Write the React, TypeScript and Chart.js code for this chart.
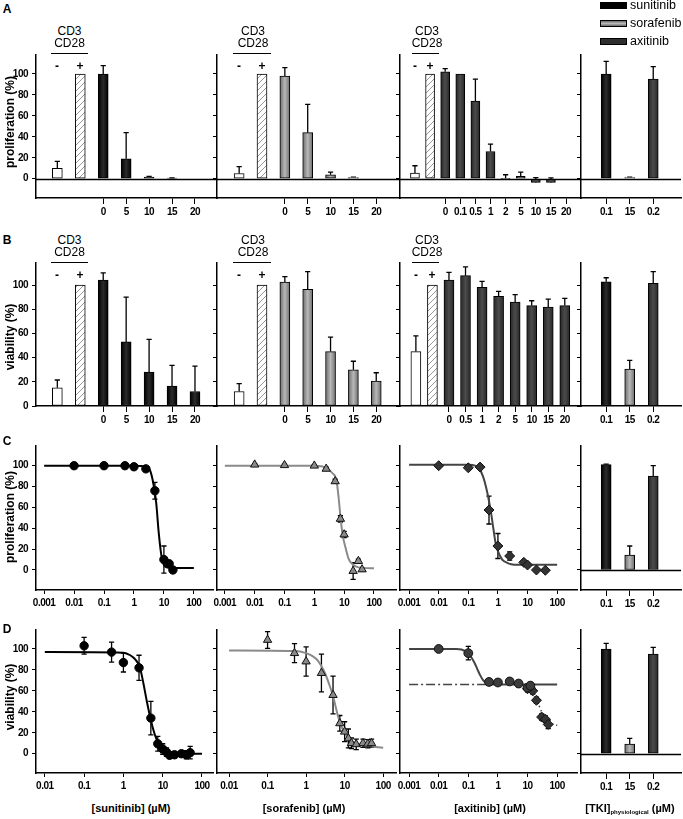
import React, { useEffect, useRef } from 'react';
import { Chart, registerables } from 'chart.js';
Chart.register(...registerables);

// ================= DATA =================
const CONC_A = ['0', '5', '10', '15', '20'];
const CONC_AXI_A = ['0', '0.1', '0.5', '1', '2', '5', '10', '15', '20'];
const CONC_AXI_B = ['0', '0.5', '1', '2', '5', '10', '15', '20'];
const PHYS_LABELS = ['0.1', '15', '0.2'];
const PHYS_DRUGS = ['sun', 'sor', 'axi'];
const Y_TICKS = [0, 20, 40, 60, 80, 100];
const LOG_TICKS_3 = [0.001, 0.01, 0.1, 1, 10, 100];
const LOG_LABELS_3 = ['0.001', '0.01', '0.1', '1', '10', '100'];
const LOG_TICKS_2 = [0.01, 0.1, 1, 10, 100];
const LOG_LABELS_2 = ['0.01', '0.1', '1', '10', '100'];

// A: proliferation (%) — controls (-, +) then drug doses
const aSunCtrl = [10, 100];
const aSunCtrlErr = [6.5, 0];
const aSunVal = [100, 19, 1.5, 0.5, 0];
const aSunErr = [8, 25, 0.6, 0.3, 0];
const aSorCtrl = [5, 100];
const aSorCtrlErr = [6.5, 0];
const aSorVal = [98, 44, 3.8, 1, 0];
const aSorErr = [8, 27, 2.5, 0.5, 0];
const aAxiCtrl = [5.4, 100];
const aAxiCtrlErr = [7, 0];
const aAxiVal = [102, 100, 74, 26, 0.3, 2.3, -3.6, -3.6, 0];
const aAxiErr = [3, 0, 21, 7, 3.5, 4, 4.6, 4.4, 0];
const aPhysVal = [100, 1, 95];
const aPhysErr = [12, 0.5, 12];

// B: viability (%)
const bSunCtrl = [15, 100];
const bSunCtrlErr = [6.5, 0];
const bSunVal = [104, 53, 28, 16.5, 12];
const bSunErr = [6, 37, 27, 17, 21];
const bSorCtrl = [12, 100];
const bSorCtrlErr = [6.5, 0];
const bSorVal = [102.5, 96.5, 45, 30, 20.5];
const bSorErr = [4.5, 14.5, 12, 7, 7];
const bAxiCtrl = [45, 100];
const bAxiCtrlErr = [13, 0];
const bAxiVal = [104, 107.7, 98, 90.6, 86, 83, 81.8, 83];
const bAxiErr = [6.5, 7.3, 5, 4.2, 6, 4, 6.6, 6];
const bPhysVal = [102.7, 30.5, 101.4];
const bPhysErr = [3.3, 7.2, 9.6];

// C: proliferation dose–response (µM)
const cSunX = [0.01, 0.1, 0.5, 1, 2.5, 5, 10, 15, 20];
const cSunY = [100, 100, 100, 99, 97, 76, 10, 6, 0];
const cSunErr = [1, 1, 1, 1, 2, 8, 13, 2, 1];
const cSunFitX = [0.001, 1, 2.5, 3.5, 4.5, 5.5, 6.7, 7.7, 8.7, 10, 12, 20, 100];
const cSunFitY = [100, 100, 99, 95, 82, 65, 36, 20, 10, 5, 2.5, 2, 2];
const cSorX = [0.01, 0.1, 1, 2.5, 5, 7.5, 10, 20, 30, 40];
const cSorY = [101, 100.5, 100, 97, 85, 49, 34, -1, 8.5, 0.5];
const cSorErr = [1, 1, 1, 1.5, 2, 3, 3, 8, 2, 1.5];
const cSorFitX = [0.001, 1, 2.5, 4, 5.5, 6.5, 7.7, 9, 11.7, 14, 18.5, 30, 100];
const cSorFitY = [100, 100, 98, 93, 86, 70, 48, 33, 19, 11, 6, 2.5, 1.6];
const cAxiX = [0.01, 0.1, 0.25, 0.5, 1, 2.5, 7.5, 10, 20, 40];
const cAxiY = [100, 98, 98.7, 57.5, 23, 13.4, 7.3, 4.8, 0, -0.3];
const cAxiErr = [1, 1, 1, 13.4, 12, 4, 2, 2, 1, 1];
const cAxiFitX = [0.001, 0.1, 0.17, 0.25, 0.32, 0.4, 0.5, 0.6, 0.7, 0.82, 1, 1.4, 2, 2.8, 5, 100];
const cAxiFitY = [101, 101, 100, 96, 89, 79, 66, 53, 40, 27, 18, 10, 7, 5.5, 5, 5];
const cPhysVal = [101, 14.4, 90];
const cPhysErr = [0.6, 8.6, 10];

// D: viability dose–response (µM)
const dSunX = [0.1, 0.5, 1, 2.5, 5, 7.5, 10, 12.5, 15, 20, 30, 40, 50];
const dSunY = [103, 97, 87, 82, 34, 9.5, 4.5, 1.5, -1.5, -1, 0, -1, 1];
const dSunErr = [8, 9.5, 9, 12, 16, 7, 5, 4, 3, 3, 3, 4, 6];
const dSunFitX = [0.01, 1, 1.5, 2, 2.6, 3.2, 3.9, 5, 6.2, 7.5, 9.1, 12, 20, 100];
const dSunFitY = [97, 96.5, 94, 90, 83, 68, 51, 32, 19, 11, 5, 2, 0.5, 0];
const dSorX = [0.1, 0.5, 1, 2.5, 5, 7.5, 10, 12.5, 15, 20, 30, 40, 50];
const dSorY = [108.6, 96, 88, 77, 56, 29, 21, 14.6, 10, 9, 10, 9.5, 10];
const dSorErr = [8, 9, 14, 18, 18, 7.5, 9.5, 9, 5, 5, 4, 4, 4];
const dSorFitX = [0.01, 0.5, 1, 1.5, 2, 3, 4, 5, 6.5, 8, 10, 14, 20, 40, 100];
const dSorFitY = [98.5, 98, 96, 93, 89, 78, 66, 55, 38, 27, 20, 13, 10, 7.5, 5.7];
const dAxiCircX = [0.01, 0.1, 0.5, 1, 2.5, 5, 10, 12.5];
const dAxiCircY = [100, 96, 68.5, 68, 69, 67, 63, 65];
const dAxiCircErr = [1.5, 6.5, 2, 2, 2, 3, 3, 3];
const dAxiDiamX = [10, 15, 20, 30, 40, 50];
const dAxiDiamY = [62, 60, 51, 35, 33, 28];
const dAxiDiamErr = [3, 3, 3, 3, 3, 4];
const dAxiFitX = [0.001, 0.04, 0.08, 0.12, 0.16, 0.2, 0.25, 0.32, 0.4, 0.5, 1, 100];
const dAxiFitY = [100, 100, 98, 93, 87, 81, 75, 70, 67.5, 66, 66, 66];
const dAxiDashX = [0.001, 0.5];
const dAxiDashY = [66, 66];
const dAxiDotX = [10, 20, 30, 50, 100];
const dAxiDotY = [64, 52, 40, 31, 27];
const dPhysVal = [100, 9.2, 95];
const dPhysErr = [5.4, 5.4, 6.6];

// ================= LAYOUT / STYLE =================
const COLS = [[36, 217], [217, 400], [400, 581], [581, 681]];
const ROWS = [[55, 198], [263, 406], [446, 590], [630, 773]];
const Y_RANGES = [[-18.4, 118.1], [0, 118.2], [-19.2, 118.9], [-18.4, 118.1]];
const YAXW = 32, PADT = 6, PADR = 2, XAXH = 28;
const X_C1 = [-0.93, 6.96];
const X_C2 = [-0.97, 7.04];
const X_C3A = [-0.99, 10.99];
const X_C3B = [-0.96, 9.98];
const X_C4 = [-1.07, 3.18];
const LOG_C1 = [5.35e-4, 464];
const LOG_C2 = [5.46e-4, 556];
const LOG_C3 = [4.93e-4, 469];
const LOG_D1 = [5.96e-3, 200];
const LOG_D2 = [4.87e-3, 218];

const FONT_NARROW = "'Liberation Sans Narrow','Arial Narrow','Liberation Sans',Arial,sans-serif";
const FONT_SANS = "'Liberation Sans',Arial,Helvetica,sans-serif";

const DRUG_FILL = {
  sun: ['#000000', '#2c2c2c'],
  sor: ['#6c6c6c', '#b8b8b8'],
  axi: ['#262626', '#4c4c4c'],
};
const POINT_STYLE = {
  sun: { pointStyle: 'circle', bg: '#000', border: '#000', r: 4.2 },
  sor: { pointStyle: 'triangle', bg: '#8a8a8a', border: '#111', r: 4.8 },
  axi: { pointStyle: 'rectRot', bg: '#333', border: '#111', r: 5 },
  axiC: { pointStyle: 'circle', bg: '#3c3c3c', border: '#111', r: 4.4 },
};
const LINE_STYLE = {
  sun: { color: '#000', width: 2 },
  sor: { color: '#8a8a8a', width: 2 },
  axi: { color: '#444', width: 2 },
};

let hatchCache = null;
function hatch() {
  if (hatchCache) return hatchCache;
  const c = document.createElement('canvas');
  c.width = 6; c.height = 6;
  const g = c.getContext('2d');
  g.fillStyle = '#fff';
  g.fillRect(0, 0, 6, 6);
  g.strokeStyle = '#8c8c8c';
  g.lineWidth = 0.9;
  g.beginPath();
  g.moveTo(0, 6); g.lineTo(6, 0);
  g.moveTo(-1, 1); g.lineTo(1, -1);
  g.moveTo(5, 7); g.lineTo(7, 5);
  g.stroke();
  hatchCache = g.createPattern(c, 'repeat');
  return hatchCache;
}

function fillFor(kind, c, barW) {
  if (kind === 'neg') return '#fff';
  if (kind === 'pos') return hatch();
  const [edge, mid] = DRUG_FILL[kind];
  const xs = c.chart.scales && c.chart.scales.x;
  if (!xs || !c.raw || typeof xs.getPixelForValue !== 'function') return edge;
  const cx = xs.getPixelForValue(c.raw.x);
  if (!isFinite(cx)) return edge;
  const g = c.chart.ctx.createLinearGradient(cx - barW / 2, 0, cx + barW / 2, 0);
  g.addColorStop(0, edge);
  g.addColorStop(0.5, mid);
  g.addColorStop(1, edge);
  return g;
}

function barPanel(row, col, o) {
  const pts = [], errs = [], kinds = [], ticks = [];
  const off = o.ctrl ? 2 : 0;
  if (o.ctrl) {
    o.ctrl.forEach((v, i) => { pts.push({ x: i, y: v }); errs.push(o.ctrlErr[i]); kinds.push(i === 0 ? 'neg' : 'pos'); });
  }
  o.vals.forEach((v, i) => {
    pts.push({ x: off + i, y: v });
    errs.push(o.errs[i]);
    kinds.push(o.drugs ? o.drugs[i] : o.drug);
    ticks.push(off + i);
  });
  return { row, col, type: 'bar', pts, errs, kinds, ticks, tickLabels: o.labels, xr: o.xr, barW: o.barW, zero: o.zero };
}

function curvePanel(row, col, o) {
  return { row, col, type: 'curve', ...o };
}

const PANELS = [
  barPanel(0, 0, { ctrl: aSunCtrl, ctrlErr: aSunCtrlErr, labels: CONC_A, vals: aSunVal, errs: aSunErr, drug: 'sun', xr: X_C1, barW: 10, zero: true }),
  barPanel(0, 1, { ctrl: aSorCtrl, ctrlErr: aSorCtrlErr, labels: CONC_A, vals: aSorVal, errs: aSorErr, drug: 'sor', xr: X_C2, barW: 10, zero: true }),
  barPanel(0, 2, { ctrl: aAxiCtrl, ctrlErr: aAxiCtrlErr, labels: CONC_AXI_A, vals: aAxiVal, errs: aAxiErr, drug: 'axi', xr: X_C3A, barW: 9, zero: true }),
  barPanel(0, 3, { labels: PHYS_LABELS, vals: aPhysVal, errs: aPhysErr, drugs: PHYS_DRUGS, xr: X_C4, barW: 10, zero: true }),
  barPanel(1, 0, { ctrl: bSunCtrl, ctrlErr: bSunCtrlErr, labels: CONC_A, vals: bSunVal, errs: bSunErr, drug: 'sun', xr: X_C1, barW: 10, zero: false }),
  barPanel(1, 1, { ctrl: bSorCtrl, ctrlErr: bSorCtrlErr, labels: CONC_A, vals: bSorVal, errs: bSorErr, drug: 'sor', xr: X_C2, barW: 10, zero: false }),
  barPanel(1, 2, { ctrl: bAxiCtrl, ctrlErr: bAxiCtrlErr, labels: CONC_AXI_B, vals: bAxiVal, errs: bAxiErr, drug: 'axi', xr: X_C3B, barW: 10, zero: false }),
  barPanel(1, 3, { labels: PHYS_LABELS, vals: bPhysVal, errs: bPhysErr, drugs: PHYS_DRUGS, xr: X_C4, barW: 10, zero: false }),
  curvePanel(2, 0, { series: [{ x: cSunX, y: cSunY, err: cSunErr, style: 'sun' }], fits: [{ x: cSunFitX, y: cSunFitY, style: 'sun' }], xr: LOG_C1, ticks: LOG_TICKS_3, tickLabels: LOG_LABELS_3 }),
  curvePanel(2, 1, { series: [{ x: cSorX, y: cSorY, err: cSorErr, style: 'sor' }], fits: [{ x: cSorFitX, y: cSorFitY, style: 'sor' }], xr: LOG_C2, ticks: LOG_TICKS_3, tickLabels: LOG_LABELS_3 }),
  curvePanel(2, 2, { series: [{ x: cAxiX, y: cAxiY, err: cAxiErr, style: 'axi' }], fits: [{ x: cAxiFitX, y: cAxiFitY, style: 'axi' }], xr: LOG_C3, ticks: LOG_TICKS_3, tickLabels: LOG_LABELS_3 }),
  barPanel(2, 3, { labels: PHYS_LABELS, vals: cPhysVal, errs: cPhysErr, drugs: PHYS_DRUGS, xr: X_C4, barW: 10, zero: true }),
  curvePanel(3, 0, { series: [{ x: dSunX, y: dSunY, err: dSunErr, style: 'sun' }], fits: [{ x: dSunFitX, y: dSunFitY, style: 'sun' }], xr: LOG_D1, ticks: LOG_TICKS_2, tickLabels: LOG_LABELS_2 }),
  curvePanel(3, 1, { series: [{ x: dSorX, y: dSorY, err: dSorErr, style: 'sor' }], fits: [{ x: dSorFitX, y: dSorFitY, style: 'sor' }], xr: LOG_D2, ticks: LOG_TICKS_2, tickLabels: LOG_LABELS_2 }),
  curvePanel(3, 2, {
    series: [
      { x: dAxiCircX, y: dAxiCircY, err: dAxiCircErr, style: 'axiC' },
      { x: dAxiDiamX, y: dAxiDiamY, err: dAxiDiamErr, style: 'axi' },
    ],
    fits: [
      { x: dAxiFitX, y: dAxiFitY, style: 'axi' },
      { x: dAxiDashX, y: dAxiDashY, style: 'axi', dash: [9, 3, 2, 3], width: 1.5 },
      { x: dAxiDotX, y: dAxiDotY, style: 'axi', dash: [1.5, 3], width: 1.5 },
    ],
    xr: LOG_C3, ticks: LOG_TICKS_3, tickLabels: LOG_LABELS_3,
  }),
  barPanel(3, 3, { labels: PHYS_LABELS, vals: dPhysVal, errs: dPhysErr, drugs: PHYS_DRUGS, xr: X_C4, barW: 10, zero: true }),
];

// ================= PLUGINS =================
const errPlugin = {
  id: 'errBars',
  beforeDatasetsDraw(chart) {
    const ctx = chart.ctx;
    const ys = chart.scales.y;
    chart.data.datasets.forEach((ds, di) => {
      const errs = ds.errors;
      if (!errs) return;
      const meta = chart.getDatasetMeta(di);
      ctx.save();
      ctx.strokeStyle = '#000';
      ctx.lineWidth = 1.3;
      meta.data.forEach((el, i) => {
        const e = errs[i];
        if (!e) return;
        const v = ds.data[i].y;
        const x = el.x;
        const cap = 2.6;
        const yTop = ys.getPixelForValue(v + e);
        const yBot = ds.errorMode === 'up' ? ys.getPixelForValue(v) : ys.getPixelForValue(v - e);
        ctx.beginPath();
        ctx.moveTo(x, yTop); ctx.lineTo(x, yBot);
        ctx.moveTo(x - cap, yTop); ctx.lineTo(x + cap, yTop);
        if (ds.errorMode !== 'up') { ctx.moveTo(x - cap, yBot); ctx.lineTo(x + cap, yBot); }
        ctx.stroke();
      });
      ctx.restore();
    });
  },
};

const zeroPlugin = {
  id: 'zeroLine',
  beforeDatasetsDraw(chart, args, opts) {
    if (!opts || !opts.enabled) return;
    const ctx = chart.ctx;
    const y = Math.round(chart.scales.y.getPixelForValue(0)) + 0.5;
    const { left, right } = chart.chartArea;
    ctx.save();
    ctx.strokeStyle = '#000';
    ctx.lineWidth = 1.5;
    ctx.beginPath();
    ctx.moveTo(left, y); ctx.lineTo(right, y);
    ctx.stroke();
    ctx.restore();
  },
};

// tighter tick text, like the condensed labels of the original figure
const tightTextPlugin = {
  id: 'tightText',
  beforeDraw(chart) {
    try { chart.ctx.letterSpacing = '-0.5px'; } catch (e) { /* ignore */ }
  },
};

function buildConfig(p) {
  const [yMin, yMax] = Y_RANGES[p.row];
  const tickFont = { family: FONT_NARROW, size: 10, weight: 'bold' };
  const isBar = p.type === 'bar';
  const xScale = {
    type: isBar ? 'linear' : 'logarithmic',
    min: p.xr[0], max: p.xr[1], offset: false, bounds: 'data',
    border: { display: true, color: '#000', width: 1.5 },
    grid: { display: true, drawOnChartArea: false, drawTicks: true, tickLength: isBar ? 6 : 4, color: '#000', lineWidth: 1, offset: false },
    ticks: {
      font: tickFont, color: '#000', padding: isBar ? 2 : 3, autoSkip: false, maxRotation: 0, minRotation: 0,
      callback: (v, i) => (p.tickLabels[i] !== undefined ? p.tickLabels[i] : ''),
    },
    afterBuildTicks: (s) => { s.ticks = p.ticks.map((v) => ({ value: v })); },
    afterFit: (s) => { s.height = XAXH; s.paddingLeft = 0; s.paddingRight = 0; },
  };
  const yScale = {
    type: 'linear', min: yMin, max: yMax, bounds: 'data',
    border: { display: true, color: '#000', width: 1.5 },
    grid: { display: true, drawOnChartArea: false, drawTicks: true, tickLength: 4, color: '#000', lineWidth: 1 },
    ticks: { display: p.col === 0, font: tickFont, color: '#000', padding: 4, callback: (v) => String(v) },
    afterBuildTicks: (s) => { s.ticks = Y_TICKS.map((v) => ({ value: v })); },
    afterFit: (s) => { s.width = YAXW; s.paddingTop = 0; s.paddingBottom = 0; },
  };
  const options = {
    responsive: false, animation: false, devicePixelRatio: 1, events: [],
    layout: { padding: { top: PADT, right: PADR, left: 0, bottom: 0 } },
    plugins: { legend: { display: false }, tooltip: { enabled: false }, zeroLine: { enabled: !!p.zero } },
    scales: { x: xScale, y: yScale },
  };
  let datasets;
  if (isBar) {
    datasets = [{
      data: p.pts,
      backgroundColor: (c) => fillFor(p.kinds[c.dataIndex], c, p.barW),
      borderColor: '#000', borderWidth: 1, borderSkipped: false,
      barThickness: p.barW, grouped: false,
      errors: p.errs, errorMode: 'up',
    }];
  } else {
    datasets = [];
    p.series.forEach((s) => {
      const st = POINT_STYLE[s.style];
      datasets.push({
        type: 'scatter',
        data: s.x.map((x, i) => ({ x, y: s.y[i] })),
        pointStyle: st.pointStyle, pointRadius: st.r, pointBackgroundColor: st.bg, pointBorderColor: st.border, pointBorderWidth: 1,
        showLine: false, errors: s.err, errorMode: 'both',
      });
    });
    p.fits.forEach((f) => {
      const ls = LINE_STYLE[f.style];
      datasets.push({
        type: 'line',
        data: f.x.map((x, i) => ({ x, y: f.y[i] })),
        borderColor: ls.color, borderWidth: f.width || ls.width, borderDash: f.dash || [],
        pointRadius: 0, fill: false, cubicInterpolationMode: 'monotone', showLine: true,
      });
    });
  }
  return { type: isBar ? 'bar' : 'scatter', data: { datasets }, options, plugins: [tightTextPlugin, errPlugin, zeroPlugin] };
}

function Panel({ spec }) {
  const ref = useRef(null);
  const [l, r] = COLS[spec.col];
  const [t, b] = ROWS[spec.row];
  const left = l - YAXW;
  const top = t - PADT;
  const w = r - l + YAXW + PADR;
  const h = b - t + PADT + XAXH;
  useEffect(() => {
    const chart = new Chart(ref.current.getContext('2d'), buildConfig(spec));
    return () => chart.destroy();
  }, []);
  return <canvas ref={ref} width={w} height={h} style={{ position: 'absolute', left, top, width: w, height: h, display: 'block' }} />;
}

function Txt({ x, y, children, style }) {
  return (
    <div style={{ position: 'absolute', left: x, top: y, transform: 'translate(-50%,-50%)', whiteSpace: 'nowrap', lineHeight: 1, ...style }}>
      {children}
    </div>
  );
}

function VTitle({ x, y, children }) {
  return (
    <div style={{ position: 'absolute', left: x, top: y, transform: 'translate(-50%,-50%) rotate(-90deg)', whiteSpace: 'nowrap', lineHeight: 1, fontWeight: 'bold', fontSize: 12, fontFamily: FONT_SANS }}>
      {children}
    </div>
  );
}

function CtrlBlock({ cx, y0, lineL, lineR, mx, px }) {
  const f = { fontFamily: FONT_NARROW, fontSize: 12 };
  return (
    <>
      <Txt x={cx} y={y0} style={f}>CD3</Txt>
      <Txt x={cx} y={y0 + 12} style={f}>CD28</Txt>
      <div style={{ position: 'absolute', left: lineL, top: y0 + 22, width: lineR - lineL, height: 0, borderTop: '1.5px solid #000' }} />
      <Txt x={mx} y={y0 + 35} style={{ ...f, fontWeight: 'bold' }}>-</Txt>
      <Txt x={px} y={y0 + 35} style={{ ...f, fontWeight: 'bold' }}>+</Txt>
    </>
  );
}

function LegendItem({ y, label, bg }) {
  return (
    <>
      <div style={{ position: 'absolute', left: 600, top: y - 3, width: 25, height: 5, background: bg, border: '0.5px solid #000' }} />
      <div style={{ position: 'absolute', left: 630, top: y, transform: 'translateY(-50%)', fontFamily: FONT_SANS, fontSize: 12.5, lineHeight: 1 }}>{label}</div>
    </>
  );
}

export default function App() {
  const letter = { fontFamily: FONT_SANS, fontWeight: 'bold', fontSize: 12 };
  const xt = { fontFamily: FONT_SANS, fontWeight: 'bold', fontSize: 11 };
  return (
    <div style={{ position: 'absolute', left: 0, top: 0, width: 683, height: 819, background: '#fff', overflow: 'hidden', fontFamily: FONT_SANS, color: '#000' }}>
      {PANELS.map((p, i) => <Panel key={i} spec={p} />)}
      <Txt x={7} y={9} style={letter}>A</Txt>
      <Txt x={7} y={240} style={letter}>B</Txt>
      <Txt x={7} y={441} style={letter}>C</Txt>
      <Txt x={7} y={629} style={letter}>D</Txt>
      <VTitle x={10} y={122}>proliferation (%)</VTitle>
      <VTitle x={10} y={337}>viability (%)</VTitle>
      <VTitle x={10} y={517}>proliferation (%)</VTitle>
      <VTitle x={10} y={697}>viability (%)</VTitle>
      <CtrlBlock cx={69.5} y0={31} lineL={51} lineR={88} mx={57} px={80} />
      <CtrlBlock cx={253} y0={31} lineL={233} lineR={271} mx={239} px={262} />
      <CtrlBlock cx={427} y0={31} lineL={412} lineR={439} mx={415} px={430} />
      <CtrlBlock cx={69.5} y0={240} lineL={51} lineR={88} mx={57} px={80} />
      <CtrlBlock cx={253} y0={240} lineL={233} lineR={271} mx={239} px={262} />
      <CtrlBlock cx={427} y0={240} lineL={412} lineR={439} mx={416} px={432} />
      <LegendItem y={5} label="sunitinib" bg="#000" />
      <LegendItem y={23} label="sorafenib" bg="linear-gradient(#6c6c6c,#b8b8b8,#6c6c6c)" />
      <LegendItem y={41} label="axitinib" bg="#2e2e2e" />
      <Txt x={131} y={808} style={xt}>[sunitinib] (µM)</Txt>
      <Txt x={304} y={808} style={xt}>[sorafenib] (µM)</Txt>
      <Txt x={490} y={808} style={xt}>[axitinib] (µM)</Txt>
      <Txt x={630} y={808} style={xt}>[TKI]<sub style={{ fontSize: 6, verticalAlign: 'baseline', position: 'relative', top: 2 }}>physiological</sub> (µM)</Txt>
    </div>
  );
}
